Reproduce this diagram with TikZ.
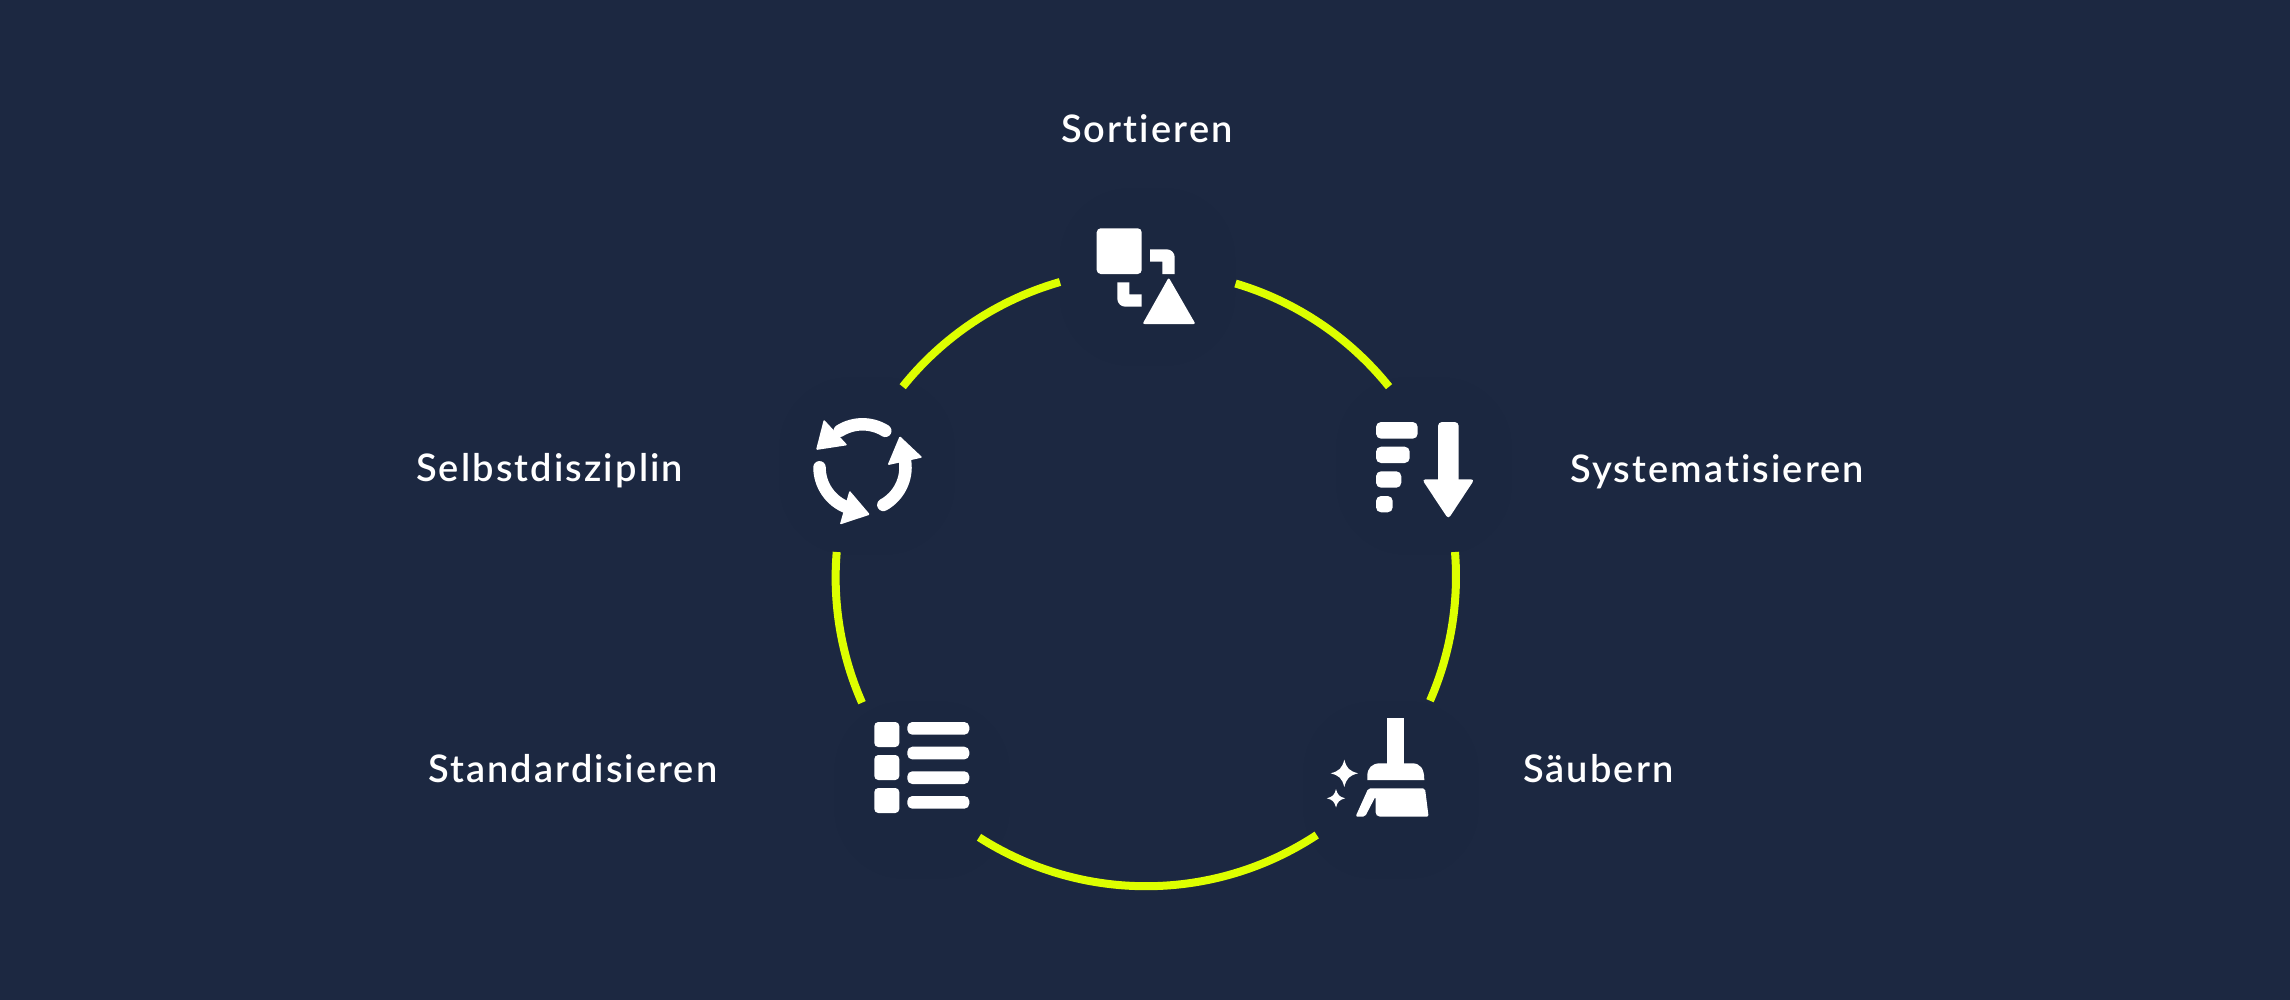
\documentclass[tikz,border=0pt]{standalone}
\usepackage{fontspec}
\setmainfont{Lato Semibold}[LetterSpace=5.5,Ligatures=NoCommon]
\definecolor{bgnavy}{HTML}{1C2841}
\definecolor{backnavy}{HTML}{1B2740}
\definecolor{lime}{HTML}{DDFF00}
\tikzset{
  backing/.style={fill=backnavy,draw=none,rounded corners=70pt,minimum width=175pt,minimum height=177pt,inner sep=0pt},
  ring/.style={draw=lime,line width=8pt,line cap=butt},
  ringarc/.style 2 args={bend left=#1,looseness=#2},
  ic/.style={fill=white,draw=none},
  cyc/.style={draw=white,line width=12.5pt,line cap=round},
  lab/.style={text=white,font=\fontsize{38}{42}\selectfont,anchor=base west,inner sep=0pt},
  sparkle/.pic={\fill[white] (0,-1) .. controls (.17,-.36) and (.36,-.17) .. (1,0) .. controls (.36,.17) and (.17,.36) .. (0,1) .. controls (-.17,.36) and (-.36,.17) .. (-1,0) .. controls (-.36,-.17) and (-.17,-.36) .. (0,-1) -- cycle;}
}
\begin{document}
\begin{tikzpicture}[x=1pt,y=-1pt]
\useasboundingbox (0,0) rectangle (2290,1000);
\fill[bgnavy] (0,0) rectangle (2290,1000);
% icon backings
\node[backing] (nSort) at (1147.5,277) {};
\node[backing] (nSys) at (1424,466) {};
\node[backing] (nSau) at (1391,790) {};
\node[backing] (nStd) at (922,790) {};
\node[backing] (nSel) at (867,466) {};
% ring end points
\coordinate (a1) at (1235.5,283.5); \coordinate (b1) at (1389,386.7);
\coordinate (a2) at (1455,552);     \coordinate (b2) at (1430,700.7);
\coordinate (a3) at (1316.7,835);   \coordinate (b3) at (979,837.3);
\coordinate (a4) at (862,702.7);    \coordinate (b4) at (836.7,552);
\coordinate (a5) at (902.7,386.7);  \coordinate (b5) at (1060,282);
\draw[ring] (a1) to[ringarc={17.4}{0.871}] (b1);
\draw[ring] (a2) to[ringarc={14.1}{0.865}] (b2);
\draw[ring] (a3) to[ringarc={33}{0.927}] (b3);
\draw[ring] (a4) to[ringarc={14.3}{0.865}] (b4);
\draw[ring] (a5) to[ringarc={17.7}{0.871}] (b5);
% Sort icon
\fill[ic,rounded corners=4pt] (1096.7,228.3) rectangle (1141.7,274);
\fill[ic] (1150,249.3) [rounded corners=8pt] -- (1174.7,249.3) [sharp corners] -- (1174.7,274) -- (1162.3,274) -- (1162.3,261.7) -- (1150,261.7) -- cycle;
\fill[ic] (1117.3,282.3) -- (1129.3,282.3) -- (1129.3,294.3) -- (1141.7,294.3) -- (1141.7,306.7) [rounded corners=8pt] -- (1117.3,306.7) [sharp corners] -- cycle;
\fill[ic,rounded corners=2pt] (1168.7,277.5) -- (1195.5,324) -- (1142.5,324) -- cycle;
% Systematisieren icon
\fill[ic,rounded corners=5pt] (1376,422) rectangle (1417.7,438.7);
\fill[ic,rounded corners=5pt] (1376,446.7) rectangle (1409.7,463);
\fill[ic,rounded corners=5pt] (1376,471.3) rectangle (1401.3,487.7);
\fill[ic,rounded corners=5pt] (1376,496) rectangle (1392.7,512.3);
\fill[ic,rounded corners=4pt] (1438,485) -- (1438,422) -- (1458.7,422) -- (1458.7,485) -- cycle;
\fill[ic,rounded corners=3.5pt] (1422,479.3) -- (1474.5,479.3) -- (1448.3,519) -- cycle;
% Saeubern icon
\fill[ic] (1387.3,718) rectangle (1404,764);
\fill[ic] (1367.3,780) -- (1367.3,776) .. controls (1367.3,768) and (1372,763.3) .. (1380,763.3) -- (1412,763.3) .. controls (1420,763.3) and (1424.3,768) .. (1424.3,780) -- cycle;
\fill[ic,rounded corners=2pt] (1368.3,788.3) -- (1425,788.3) -- (1428.6,816.7) -- (1378,816.7) -- (1375.5,814) -- (1375.5,796.5) -- (1365,816.7) -- (1355.5,816.7) -- cycle;
\pic[scale=13.7] at (1344.3,773.3) {sparkle};
\pic[scale=9.2] at (1336,798.3) {sparkle};
% Standardisieren icon
\foreach \yy in {722,755,788}{\fill[ic,rounded corners=4pt] (874.3,\yy) rectangle (899.3,\yy+25);}
\foreach \yy in {722,746.7,771.3,796}{\fill[ic,rounded corners=5pt] (907.3,\yy) rectangle (969.3,\yy+12.7);}
% Selbstdisziplin icon
\coordinate (cc) at (862.5,467.3);
\draw[cyc] ([shift={(cc)}]-58:43) arc[start angle=-58,end angle=-122,radius=43];
\draw[cyc] ([shift={(cc)}]61:43) arc[start angle=61,end angle=-8,radius=43];
\draw[cyc] ([shift={(cc)}]-180:43) arc[start angle=-180,end angle=-249,radius=43];
\fill[ic,rounded corners=1.2pt] (816,450) -- (823.8,419.5) -- (847.5,445.2) -- cycle;
\fill[ic,rounded corners=1.2pt] (899.7,436) -- (922.5,457.5) -- (887.5,465.2) -- cycle;
\fill[ic,rounded corners=1.2pt] (849.5,490.5) -- (870,514.6) -- (839.8,524.6) -- cycle;
% labels
\node[lab] (tSort) at (1061,142.5) {Sortieren};
\node[lab] (tSys) at (1570,482.5) {Systematisieren};
\node[lab] (tSau) at (1523,782.5) {Säubern};
\node[lab] (tStd) at (428,782.5) {Standardisieren};
\node[lab] (tSel) at (416,481.5) {Selbstdisziplin};
\end{tikzpicture}
\end{document}
